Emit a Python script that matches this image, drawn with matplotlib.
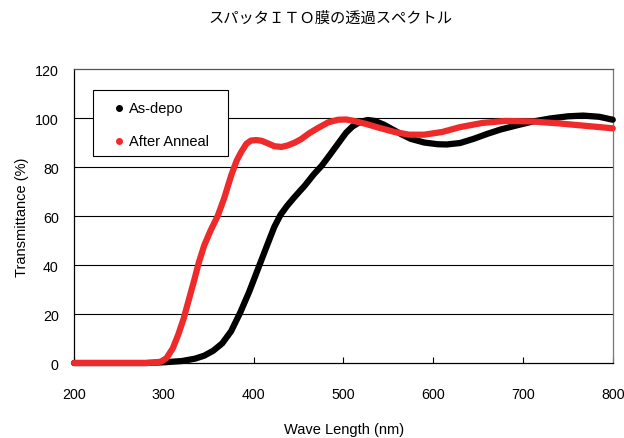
import matplotlib
matplotlib.use("Agg")
import matplotlib.pyplot as plt
from matplotlib.patches import Rectangle

title = "スパッタＩＴＯ膜の透過スペクトル"
xlabel = "Wave Length (nm)"
ylabel = "Transmittance (%)"
legend_labels = ["As-depo", "After Anneal"]
xticks = [200, 300, 400, 500, 600, 700, 800]
yticks = [0, 20, 40, 60, 80, 100, 120]

asdepo_x = [200, 280, 300, 320, 335, 345, 355, 365, 375, 385, 395, 405, 415, 423, 430, 437,
            445, 457, 467, 476, 485, 495, 503, 510, 518, 527, 535, 545, 555, 565, 575, 590,
            605, 615, 630, 645, 660, 675, 692, 710, 730, 750, 767, 785, 800]
asdepo_y = [0, 0, 0.3, 0.8, 1.8, 3, 5, 8, 13, 20.5, 29, 38.5, 48, 55.5, 60.5, 64,
            67.5, 72.4, 77, 80.6, 85, 90, 94, 96.5, 98.3, 99.2, 98.8, 97.3, 95.3, 93.3, 91.5, 90,
            89.3, 89.2, 89.8, 91.5, 93.5, 95.3, 96.9, 98.5, 99.8, 100.7, 101, 100.5, 99.3]

anneal_x = [200, 280, 290, 297, 303, 310, 316, 322, 328, 334, 339, 345, 352, 360, 367, 375,
            381, 386, 392, 397, 403, 409, 415, 423, 431, 438, 446, 453, 462, 472, 483, 494,
            503, 512, 525, 540, 557, 573, 590, 610, 630, 655, 680, 710, 740, 770, 800]
anneal_y = [0, 0, 0.2, 0.6, 2, 6, 11.5, 18, 26, 34, 41, 48, 54, 60, 67, 76.5,
            82.5, 86, 89.5, 90.8, 91, 90.7, 89.8, 88.5, 88.2, 88.8, 90, 91.4, 93.8, 96, 98.2, 99.3,
            99.4, 98.8, 97.6, 96, 94.3, 93.2, 93.2, 94.3, 96.3, 98, 98.8, 98.6, 97.8, 96.8, 95.8]

colors = ['black', '#ee2a2a']

plt.rcParams['font.family'] = ['Liberation Sans', 'Noto Sans CJK JP', 'DejaVu Sans']

fig = plt.figure(figsize=(6.24, 4.39), dpi=100)
ax = fig.add_axes([0.1186, 0.1708, 0.8634, 0.6697])

ax.plot(asdepo_x, asdepo_y, color=colors[0], lw=4.5, solid_capstyle='round',
        solid_joinstyle='round', zorder=3, clip_on=False)
ax.plot(anneal_x, anneal_y, color=colors[1], lw=4.5, solid_capstyle='round',
        solid_joinstyle='round', zorder=4, clip_on=False)

# legend box (drawn manually to match the reference proportions)
ax.add_patch(Rectangle((0.035, 0.704), 0.251, 0.225, transform=ax.transAxes,
                       facecolor='white', edgecolor='black', lw=0.8, zorder=5))
for i, (lab, c) in enumerate(zip(legend_labels, colors)):
    yy = 0.867 - i * 0.112
    ax.plot([0.0835], [yy], 'o', color=c, ms=4, transform=ax.transAxes, zorder=6)
    ax.text(0.102, yy, lab, transform=ax.transAxes, va='center', ha='left',
            fontsize=10.5, zorder=6)

ax.set_xlim(200, 800)
ax.set_ylim(0, 120)
ax.set_xticks(xticks)
ax.set_yticks(yticks)
ax.tick_params(axis='x', direction='in', length=4, width=0.8, pad=17.5, labelsize=10.3)
ax.tick_params(axis='y', length=0, pad=11, labelsize=10.3)
for y in yticks[1:-1]:
    ax.axhline(y, color='black', lw=0.8, zorder=1)
ax.spines['left'].set_color('black')
ax.spines['bottom'].set_color('black')
ax.spines['top'].set_color('#555555')
ax.spines['right'].set_color('#777777')
for s in ax.spines.values():
    s.set_linewidth(0.9)

ax.set_ylabel(ylabel, fontsize=10.5, labelpad=4)
fig.text(0.552, 1 - 430.5 / 439, xlabel, ha='center', va='center', fontsize=10.5)
fig.text(0.529, 0.959, title, ha='center', va='center', fontsize=11,
         family=['Noto Sans CJK JP', 'DejaVu Sans'])

fig.savefig('out.png', dpi=100)
